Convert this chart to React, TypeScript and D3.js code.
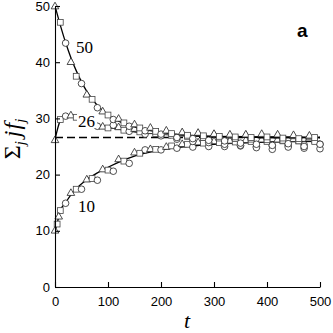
import React, { useEffect, useRef } from 'react';
import * as d3 from 'd3';

// sampling times of the simulations (one marker every 10 steps)
const times = [
  0, 10, 20, 30, 40, 50, 60, 70, 80, 90, 100, 110, 120, 130, 140, 150, 160, 170, 180, 190, 200,
  210, 220, 230, 240, 250, 260, 270, 280, 290, 300, 310, 320, 330, 340, 350, 360, 370, 380, 390,
  400, 410, 420, 430, 440, 450, 460, 470, 480, 490, 500,
];

// run id of each sample: 0 = triangle, 1 = square, 2 = circle
const runs = times.map((t) => Math.round(t / 10) % 3);

const start50 = [
  50, 47.1, 43.4, 40.1, 37.5, 36.2, 34.3, 33.4, 31.9, 31.3, 30.6, 29.8, 30.0, 29.2, 28.6, 29.0,
  28.3, 27.8, 28.4, 27.7, 27.2, 27.9, 27.3, 26.6, 27.6, 27.0, 26.4, 27.5, 26.9, 26.1, 27.3, 26.8,
  26.0, 27.2, 26.7, 25.6, 27.2, 26.6, 25.4, 27.3, 26.7, 25.2, 27.2, 26.5, 25.5, 27.1, 26.4, 25.0,
  27.0, 26.6, 25.4,
];
const start26 = [
  26.2, 29.8, 30.4, 30.6, 30.2, 29.8, 29.4, 29.0, 28.6, 28.6, 28.3, 28.8, 28.5, 27.9, 27.7, 28.2,
  27.6, 27.2, 27.8, 27.3, 26.9, 27.6, 27.0, 26.3, 27.4, 26.8, 25.9, 27.3, 26.6, 25.7, 27.2, 26.5,
  25.4, 27.0, 26.4, 25.2, 27.1, 26.3, 24.8, 27.0, 26.2, 24.5, 27.0, 26.1, 24.9, 26.9, 26.0, 24.7,
  26.8, 25.9, 24.6,
];
const start10 = [
  10.1, 13.6, 14.9, 16.8, 17.4, 17.4, 19.2, 19.3, 19.0, 21.0, 20.8, 20.6, 22.8, 22.4, 22.0, 24.0,
  23.8, 24.4, 24.6, 24.5, 24.4, 25.0, 25.1, 24.7, 25.5, 25.4, 24.9, 25.8, 25.6, 25.0, 26.0, 25.7,
  25.0, 26.1, 25.8, 25.1, 26.2, 25.9, 25.0, 26.3, 25.9, 25.1, 26.3, 26.0, 25.2, 26.4, 26.0, 25.3,
  26.5, 26.1, 25.4,
];
// extra early samples of the start-10 runs
const earlyTimes10 = [4, 7];
const earlyValues10 = [11.2, 12.6];
const earlyRuns10 = [1, 0];

// smooth curves
const curveTimes50 = [0, 10, 20, 30, 40, 50, 60, 80, 100, 125, 150, 175, 200, 250, 300, 400, 500];
const curve50 = [50, 46.6, 43.5, 40.8, 38.5, 36.5, 34.8, 32.3, 30.6, 29.3, 28.5, 27.9, 27.5, 27.0, 26.8, 26.6, 26.6];
const curveTimes26 = [0, 10, 20, 30, 40, 60, 80, 100, 125, 150, 200, 250, 300, 400, 500];
const curve26 = [26.2, 29.6, 30.4, 30.5, 30.2, 29.4, 28.8, 28.4, 28.0, 27.6, 27.2, 26.9, 26.8, 26.7, 26.6];
const curveTimes10 = [0, 4, 7, 10, 20, 30, 40, 60, 80, 100, 125, 150, 175, 200, 250, 300, 400, 500];
const curve10 = [10.1, 11.2, 12.6, 13.6, 15.0, 16.4, 17.5, 19.1, 20.3, 21.3, 22.4, 23.3, 23.9, 24.4, 25.0, 25.4, 25.8, 25.9];

const equilibrium = 26.6;

const xTicks = [0, 100, 200, 300, 400, 500];
const yTicks = [0, 10, 20, 30, 40, 50];

const W = 333;
const H = 333;

const x = d3.scaleLinear().domain([0, 500]).range([55, 320]);
const y = d3.scaleLinear().domain([0, 50]).range([287, 6]);

const line = d3
  .line<[number, number]>()
  .x((d) => x(d[0]))
  .y((d) => y(d[1]))
  .curve(d3.curveMonotoneX);

const zip = (ts: number[], vs: number[]) => ts.map((t, i) => [t, vs[i]] as [number, number]);

type Pt = { t: number; v: number; run: number };

const series: { points: Pt[]; curve: [number, number][] }[] = [
  {
    points: [
      ...times.map((t, i) => ({ t, v: start10[i], run: runs[i] })),
      ...earlyTimes10.map((t, i) => ({ t, v: earlyValues10[i], run: earlyRuns10[i] })),
    ],
    curve: zip(curveTimes10, curve10),
  },
  {
    points: times.map((t, i) => ({ t, v: start26[i], run: runs[i] })),
    curve: zip(curveTimes26, curve26),
  },
  {
    points: times.map((t, i) => ({ t, v: start50[i], run: runs[i] })),
    curve: zip(curveTimes50, curve50),
  },
];

const Marker = ({ p }: { p: Pt }) => {
  const cx = x(p.t);
  const cy = y(p.v);
  const common = { fill: '#fff', stroke: '#222', strokeWidth: 0.8 };
  if (p.run === 0) {
    const s = 3.8;
    return (
      <path
        d={`M${cx},${cy - s}L${cx + s},${cy + s * 0.75}L${cx - s},${cy + s * 0.75}Z`}
        {...common}
      />
    );
  }
  if (p.run === 1) {
    return <rect x={cx - 2.9} y={cy - 2.9} width={5.8} height={5.8} {...common} stroke="#444" />;
  }
  return <circle cx={cx} cy={cy} r={3.3} {...common} />;
};

const App = () => {
  const xAxisRef = useRef<SVGGElement>(null);
  const yAxisRef = useRef<SVGGElement>(null);

  useEffect(() => {
    const xa = d3.select(xAxisRef.current);
    xa.selectAll('*').remove();
    xa.call(
      d3.axisBottom(x).tickValues(xTicks).tickSizeInner(-5).tickSizeOuter(0).tickPadding(10)
    );
    const ya = d3.select(yAxisRef.current);
    ya.selectAll('*').remove();
    ya.call(
      d3.axisLeft(y).tickValues(yTicks).tickSizeInner(-5).tickSizeOuter(0).tickPadding(5)
    );
    [xa, ya].forEach((a) => {
      a.attr('font-family', '"Liberation Sans", Arial, sans-serif').attr('font-size', 13);
      a.selectAll('path, line').attr('stroke', '#000').attr('stroke-width', 1.1);
      a.selectAll('text').attr('fill', '#000');
    });
  }, []);

  return (
    <svg width={W} height={H} style={{ position: 'absolute', left: 0, top: 0, background: '#fff' }}>
      <line
        x1={x(0)}
        x2={x(500)}
        y1={y(equilibrium)}
        y2={y(equilibrium)}
        stroke="#000"
        strokeWidth={1.3}
        strokeDasharray="8,4"
      />
      {series.map((s, i) => (
        <g key={i}>
          <path d={line(s.curve) ?? ''} fill="none" stroke="#000" strokeWidth={1.3} />
          {s.points.map((p, j) => (
            <Marker key={j} p={p} />
          ))}
        </g>
      ))}
      <g fontFamily='"Liberation Serif", "Times New Roman", serif' fontSize={17}>
        <rect x={77} y={114} width={20} height={14} fill="#fff" />
        <text x={76} y={53}>50</text>
        <text x={78} y={127}>26</text>
        <text x={78} y={212}>10</text>
      </g>
      <g ref={xAxisRef} transform={`translate(0,${y(0)})`} />
      <g ref={yAxisRef} transform={`translate(${x(0)},0)`} />
      <text
        x={187}
        y={328}
        textAnchor="middle"
        fontFamily='"Liberation Serif", "Times New Roman", serif'
        fontStyle="italic"
        fontSize={22}
      >
        t
      </text>
      <text
        transform="translate(20,139) rotate(-90)"
        textAnchor="middle"
        fontFamily='"Liberation Serif", "Times New Roman", serif'
        fontSize={24}
      >
        Σ
        <tspan fontStyle="italic" fontSize={15} dy={5}>j</tspan>
        <tspan fontStyle="italic" dy={-5} dx={4}>j</tspan>
        <tspan fontStyle="italic" dx={1}>f</tspan>
        <tspan fontStyle="italic" fontSize={15} dy={5}>j</tspan>
      </text>
      <text x={297} y={37} fontFamily='"Liberation Sans", Arial, sans-serif' fontWeight="bold" fontSize={19}>
        a
      </text>
    </svg>
  );
};

export default App;
